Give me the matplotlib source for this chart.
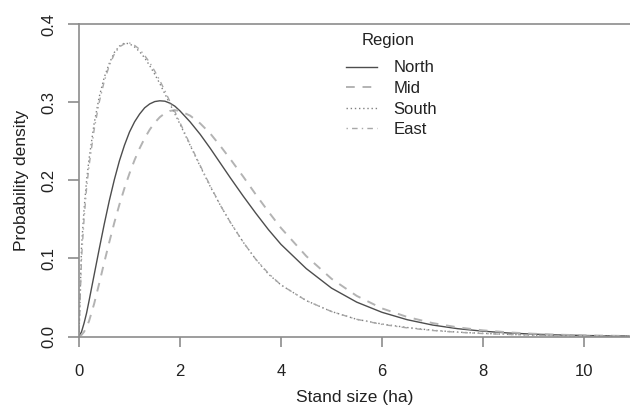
import matplotlib
matplotlib.use("Agg")
import matplotlib.pyplot as plt
from matplotlib.lines import Line2D

plt.rcParams['font.family'] = ['Liberation Sans', 'DejaVu Sans']

# Stand size grid (ha) and read-off densities per region
size_ha = [0, 0.05, 0.1, 0.15, 0.2, 0.3, 0.4, 0.5, 0.6, 0.7, 0.8, 0.9,
           1.0, 1.1, 1.2, 1.3, 1.4, 1.5, 1.6, 1.7, 1.8, 1.9, 2.0,
           2.2, 2.4, 2.6, 2.8, 3.0, 3.25, 3.5, 3.75, 4.0,
           4.5, 5.0, 5.5, 6.0, 6.5, 7.0, 7.5, 8.0, 8.5, 9.0, 9.5, 10.0, 10.5, 11.0]

north = [0, 0.006, 0.017, 0.03, 0.046, 0.079, 0.112, 0.144, 0.174, 0.201, 0.225, 0.245,
         0.262, 0.275, 0.285, 0.293, 0.298, 0.301, 0.302, 0.3015, 0.299, 0.295, 0.289,
         0.275, 0.259, 0.241, 0.222, 0.203, 0.18, 0.158, 0.137, 0.118,
         0.087, 0.062, 0.044, 0.031, 0.0215, 0.0147, 0.01, 0.0068, 0.0045, 0.003, 0.002, 0.0013, 0.0008, 0.0005]

mid = [0, 0.002, 0.006, 0.012, 0.02, 0.042, 0.068, 0.095, 0.121, 0.146, 0.169, 0.19,
       0.209, 0.226, 0.241, 0.254, 0.265, 0.274, 0.281, 0.286, 0.289, 0.29, 0.289,
       0.283, 0.273, 0.26, 0.244, 0.227, 0.205, 0.182, 0.16, 0.139,
       0.103, 0.074, 0.052, 0.036, 0.025, 0.0172, 0.0117, 0.0079, 0.0053, 0.0035, 0.0023, 0.0015, 0.001, 0.0006]

south = [0, 0.115, 0.163, 0.2, 0.228, 0.273, 0.307, 0.332, 0.35, 0.364, 0.372, 0.376,
         0.375, 0.371, 0.365, 0.357, 0.347, 0.336, 0.324, 0.311, 0.298, 0.285, 0.272,
         0.245, 0.218, 0.192, 0.168, 0.146, 0.121, 0.099, 0.08, 0.066,
         0.046, 0.032, 0.022, 0.016, 0.0115, 0.008, 0.0056, 0.004, 0.0027, 0.0018, 0.0012, 0.0008, 0.0005, 0.0003]

east = [0, 0.1, 0.15, 0.19, 0.219, 0.265, 0.3, 0.327, 0.347, 0.362, 0.371, 0.375,
        0.376, 0.373, 0.368, 0.36, 0.351, 0.34, 0.328, 0.315, 0.301, 0.288, 0.274,
        0.246, 0.219, 0.193, 0.168, 0.146, 0.121, 0.099, 0.081, 0.066,
        0.046, 0.032, 0.022, 0.0155, 0.011, 0.0077, 0.0054, 0.0038, 0.0026, 0.0018, 0.0012, 0.0008, 0.0005, 0.0003]

regions = ["North", "Mid", "South", "East"]
x_ticks = [0, 2, 4, 6, 8, 10]
y_ticks = [0.0, 0.1, 0.2, 0.3, 0.4]

fig = plt.figure(figsize=(6.3, 4.05), dpi=100)
ax = fig.add_axes([79 / 630, 68.5 / 405, 1 - 79 / 630, (336.5 - 24.3) / 405])

styles = [
    dict(color="#4d4d4d", lw=1.0, linestyle="-"),
    dict(color="#b3b3b3", lw=1.4, linestyle=(0, (4.5, 4))),
    dict(color="#808080", lw=1.0, linestyle=(0, (1, 2))),
    dict(color="#a8a8a8", lw=1.0, linestyle=(0, (1, 3, 4, 3))),
]
handles = []
for vals, name, st in zip([north, mid, south, east], regions, styles):
    ax.plot(size_ha, vals, **st)
    handles.append(Line2D([], [], **st))

ax.set_xlim(0, (630 - 79) / 50.5)
ax.set_ylim(0, 0.4)

axis_gray = "#8c8c8c"
for side in ["left", "bottom", "top"]:
    ax.spines[side].set_color(axis_gray)
    ax.spines[side].set_linewidth(1.2)
ax.spines["right"].set_visible(False)

ax.set_xticks(x_ticks)
ax.set_xticklabels([str(t) for t in x_ticks])
ax.set_yticks(y_ticks)
ax.set_yticklabels(["%.1f" % t for t in y_ticks], rotation=90, va="center")
ax.tick_params(axis="both", direction="out", color=axis_gray, width=1.2,
               labelsize=12, labelcolor="#222222")
ax.tick_params(axis="x", length=7.5, pad=12)
ax.tick_params(axis="y", length=8, pad=8)

ax.set_xlabel("Stand size (ha)", fontsize=12.5, color="#222222", labelpad=8)
ax.set_ylabel("Probability density", fontsize=12.5, color="#222222", labelpad=9)

# legend title drawn separately (R puts extra space under it)
fig.text(388 / 630, 1 - 40 / 405, "Region", ha="center", va="center",
         fontsize=12, color="#222222")
leg = ax.legend(handles, regions, loc="upper left",
                bbox_to_anchor=(345.7 / 630, 1 - 60.5 / 405), bbox_transform=fig.transFigure,
                frameon=False, fontsize=12,
                handlelength=1.9, handletextpad=0.95, labelspacing=0.33,
                borderpad=0, borderaxespad=0)
for t in leg.get_texts():
    t.set_color("#222222")

plt.savefig("out.png", dpi=100)
plt.close()
